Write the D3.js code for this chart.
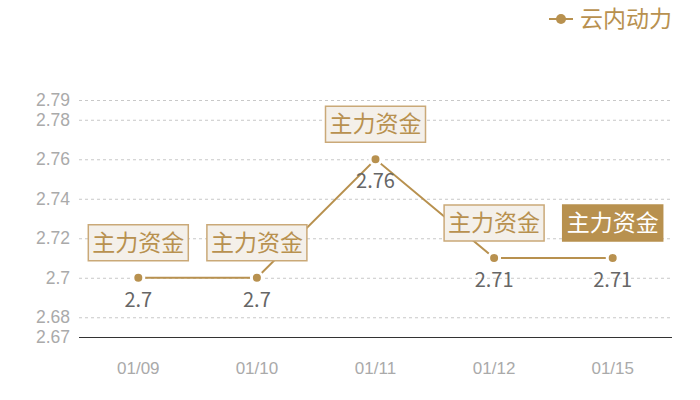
<!DOCTYPE html>
<html>
<head>
<meta charset="utf-8">
<script src="https://cdn.jsdelivr.net/npm/d3@7"></script>
<style>
  body { margin: 0; background: #fff; }
  svg { display: block; font-family: "Noto Sans CJK SC", "Noto Sans", sans-serif; }
</style>
</head>
<body>
<svg></svg>
<script>
const dates = ["01/09", "01/10", "01/11", "01/12", "01/15"];
const values = [2.7, 2.7, 2.76, 2.71, 2.71];
const yTicks = [2.67, 2.68, 2.7, 2.72, 2.74, 2.76, 2.78, 2.79];
const seriesName = "云内动力";
const noteText = "主力资金";
const highlightDate = "01/15";

const width = 700;
const height = 400;
const gold = "#b8914f";

const svg = d3.select("svg")
        .attr("width", width)
        .attr("height", height);

const xScale = d3.scaleBand()
                    .domain(dates)
                    .range([79, 672]);
const yScale = d3.scaleLinear()
                    .domain([2.67, 2.79])
                    .range([337, 100]);
const cx = d => xScale(d) + xScale.bandwidth() / 2;

const data = dates.map((d, i) => ({ date: d, value: values[i] }));

// grid lines + y labels
const yAxis = d3.axisLeft(yScale)
                .tickValues(yTicks)
                .tickFormat(d => d3.format("~g")(d))
                .tickSize(-(672 - 79))
                .tickPadding(9);
const gy = svg.append("g")
        .attr("transform", "translate(79, 0)")
        .call(yAxis);
gy.select(".domain").remove();
gy.selectAll(".tick line")
        .attr("stroke", "#c8c8c8")
        .attr("stroke-dasharray", "3,3");
gy.selectAll(".tick text")
        .attr("fill", "#aaa")
        .style("font-size", "17.5px");
gy.selectAll(".tick")
        .filter(d => d === 2.67)
        .select("line")
        .attr("stroke", "#333")
        .attr("stroke-dasharray", null);

// x labels
const xAxis = d3.axisBottom(xScale)
                .tickSize(0)
                .tickPadding(25);
const gx = svg.append("g")
        .attr("transform", "translate(0, 337)")
        .call(xAxis);
gx.select(".domain").remove();
gx.selectAll(".tick text")
        .attr("fill", "#aaa")
        .style("font-size", "17px");

// line
const line = d3.line()
        .x(d => cx(d.date))
        .y(d => yScale(d.value));
svg.append("path")
        .datum(data)
        .attr("fill", "none")
        .attr("stroke", gold)
        .attr("stroke-width", 2)
        .attr("d", line);

svg.selectAll("circle.pt")
    .data(data)
    .enter()
    .append("circle")
        .attr("class", "pt")
        .attr("cx", d => cx(d.date))
        .attr("cy", d => yScale(d.value))
        .attr("r", 5.5)
        .attr("fill", gold)
        .attr("stroke", "#fff")
        .attr("stroke-width", 3);

// value labels
svg.selectAll("text.val")
    .data(data)
    .enter()
    .append("text")
        .attr("class", "val")
        .attr("x", d => cx(d.date))
        .attr("y", d => yScale(d.value) + 29)
        .attr("text-anchor", "middle")
        .attr("fill", "#666")
        .style("font-size", "20px")
        .text(d => d3.format("~g")(d.value));

// note boxes
const notes = svg.selectAll("g.note")
    .data(data)
    .enter()
    .append("g")
        .attr("class", "note")
        .attr("transform", d => "translate(" + cx(d.date) + "," + (yScale(d.value) - 17) + ")");
notes.append("rect")
        .attr("x", -50)
        .attr("y", -36)
        .attr("width", 100)
        .attr("height", 36)
        .attr("fill", d => d.date === highlightDate ? gold : "#f4f0ea")
        .attr("stroke", d => d.date === highlightDate ? gold : "#caa978")
        .attr("stroke-width", 1.5);
notes.append("text")
        .attr("x", 0)
        .attr("y", -10)
        .attr("text-anchor", "middle")
        .attr("fill", d => d.date === highlightDate ? "#fff" : gold)
        .style("font-size", "23px")
        .text(noteText);

// legend
const legend = svg.append("g")
        .attr("transform", "translate(549, 19)");
legend.append("line")
        .attr("x1", 0)
        .attr("x2", 24)
        .attr("stroke", gold)
        .attr("stroke-width", 2);
legend.append("circle")
        .attr("cx", 12)
        .attr("r", 5)
        .attr("fill", gold);
legend.append("text")
        .attr("x", 31)
        .attr("dy", "0.36em")
        .attr("fill", gold)
        .style("font-size", "23px")
        .text(seriesName);
</script>
</body>
</html>
